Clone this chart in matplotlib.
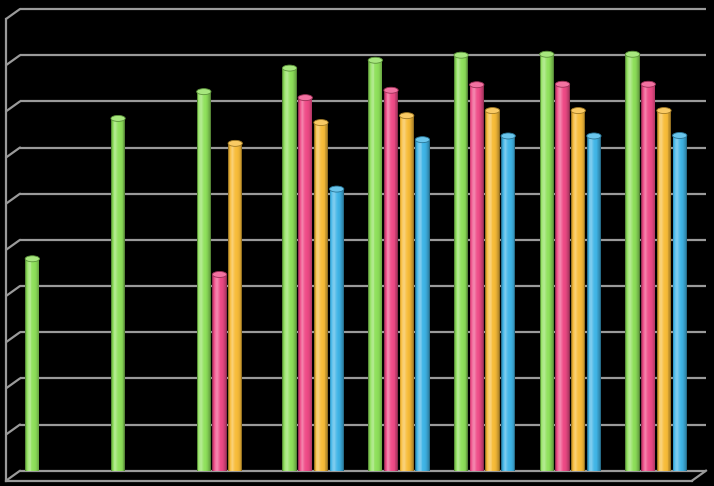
import numpy as np
import matplotlib
matplotlib.use("Agg")
import matplotlib.pyplot as plt
from matplotlib.transforms import ScaledTranslation
from matplotlib.patches import Ellipse
from matplotlib.colors import to_rgb

# ---- data ----
categories = ["G1", "G2", "G3", "G4", "G5", "G6", "G7", "G8"]
nan = np.nan
series_green = [4.72, 7.76, 8.34, 8.85, 9.02, 9.13, 9.15, 9.15]
series_pink = [nan, nan, 4.38, 8.21, 8.37, 8.49, 8.50, 8.50]
series_orange = [nan, nan, 7.22, 7.67, 7.82, 7.93, 7.93, 7.93]
series_blue = [nan, nan, nan, 6.23, 7.30, 7.38, 7.38, 7.39]
y_max = 10

series = [series_green, series_pink, series_orange, series_blue]
colors = ["#8ee05a", "#ee4a86", "#f7bb38", "#3fb4e6"]

W, H, DPI = 714, 486, 100
fig = plt.figure(figsize=(W / DPI, H / DPI), dpi=DPI, facecolor="black")
left_px, right_px, top_px, bot_px = 20, 706, 9, 470.7
ax = fig.add_axes([left_px / W, (H - bot_px) / H, (right_px - left_px) / W, (bot_px - top_px) / H])
ax.set_facecolor("black")
ax.axis("off")
n = len(categories)
ax.set_xlim(-0.5, n - 0.5)
ax.set_ylim(0, y_max)

grid_col = "#9a9a9a"
lw = 1.6
# back wall gridlines
ax.hlines(np.arange(0, y_max + 1), -0.5, n - 0.5, colors=grid_col, linewidth=lw, clip_on=False, zorder=1)

# depth offsets (pixels -> data units)
px_x = (right_px - left_px) / n
px_y = (bot_px - top_px) / y_max
ddx, ddy = 14 / px_x, 10 / px_y
for yv in range(0, y_max + 1):
    ax.plot([-0.5, -0.5 - ddx], [yv, yv - ddy], color=grid_col, linewidth=lw, clip_on=False,
            solid_capstyle="round", zorder=1)
ax.plot([-0.5 - ddx, -0.5 - ddx], [-ddy, y_max - ddy], color=grid_col, linewidth=lw, clip_on=False, zorder=1)
ax.plot([-0.5 - ddx, n - 0.5 - ddx], [-ddy, -ddy], color=grid_col, linewidth=lw, clip_on=False, zorder=1)
ax.plot([n - 0.5, n - 0.5 - ddx], [0, -ddy], color=grid_col, linewidth=lw, clip_on=False, zorder=1)

# bars in mid-depth plane
half = ScaledTranslation(-7 / DPI, -6 / DPI, fig.dpi_scale_trans)
tr = ax.transData + half
pitch = 15.7 / px_x
bw = 14.3 / px_x
nstrip = 16
prof_t = [0.0, 0.08, 0.2, 0.32, 0.5, 0.75, 0.92, 1.0]
prof_l = [-0.5, -0.15, 0.2, 0.35, 0.05, -0.05, -0.25, -0.5]


def shade(base, L):
    b = np.array(to_rgb(base))
    if L < 0:
        return tuple(b * (1 + L))
    return tuple(b + (1 - b) * L)


cap_h = 6 / px_y
x_idx = np.arange(n)
for k, (vals, col) in enumerate(zip(series, colors)):
    vals = np.array(vals, dtype=float)
    ok = ~np.isnan(vals)
    xs = x_idx[ok] + (k - 1.5) * pitch
    vs = vals[ok]
    for i in range(nstrip):
        t = (i + 0.5) / nstrip
        L = np.interp(t, prof_t, prof_l)
        bars = ax.bar(xs - bw / 2 + t * bw, vs, width=bw / nstrip * 1.05, color=shade(col, L),
                      linewidth=0, zorder=3)
        for p in bars:
            p.set_transform(tr)
    for xc, v in zip(xs, vs):
        bot = Ellipse((xc, 0), bw, cap_h, transform=tr, facecolor=shade(col, -0.2),
                      edgecolor="none", zorder=2.5)
        ax.add_patch(bot)
        cap = Ellipse((xc, v), bw, cap_h, transform=tr, facecolor=shade(col, 0.22),
                      edgecolor=shade(col, -0.35), linewidth=0.6, zorder=4)
        ax.add_patch(cap)

fig.savefig("out.png", dpi=DPI, facecolor="black")
